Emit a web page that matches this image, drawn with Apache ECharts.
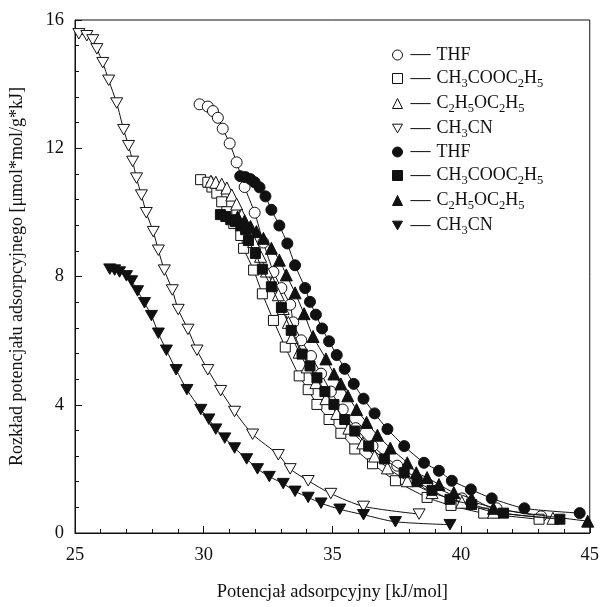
<!DOCTYPE html>
<html><head><meta charset="utf-8">
<script src="https://cdn.jsdelivr.net/npm/echarts@6/dist/echarts.min.js"></script>
<style>html,body{margin:0;padding:0;background:#fff}#c{width:602px;height:607px}</style>
</head><body><div id="c"></div>
<script>
// ---- data ----
var xTicks = [25, 30, 35, 40, 45];
var yTicks = [0, 4, 8, 12, 16];
var legendNames = ['THF', 'CH3COOC2H5', 'C2H5OC2H5', 'CH3CN', 'THF', 'CH3COOC2H5', 'C2H5OC2H5', 'CH3CN'];

var thfOpen = [[29.84,13.37],[30.16,13.30],[30.36,13.16],[30.55,12.95],[30.74,12.61],[31.01,12.15],[31.28,11.56],[31.59,10.79],[31.98,9.99],[32.32,9.06],[32.71,8.14],[33.02,7.64],[33.36,7.12],[33.48,6.57],[33.79,6.01],[34.17,5.52],[34.56,4.97],[34.94,4.41],[35.40,3.85],[35.91,3.27],[36.56,2.71],[37.52,2.10],[38.68,1.54],[40.03,1.08],[41.38,0.77],[43.11,0.52]];
var acetOpen = [[29.88,11.02],[30.16,10.94],[30.32,10.79],[30.51,10.60],[30.70,10.33],[30.90,10.02],[31.17,9.65],[31.44,9.28],[31.55,8.88],[31.94,8.20],[32.28,7.46],[32.71,6.63],[33.17,5.80],[33.71,4.90],[34.06,4.47],[34.40,4.01],[34.87,3.54],[35.33,3.11],[35.87,2.62],[36.56,2.16],[37.45,1.63],[38.68,1.11],[39.61,0.86],[40.88,0.62],[43.03,0.43]];
var etherOpen = [[30.28,10.97],[30.47,10.94],[30.70,10.88],[30.90,10.76],[31.09,10.54],[31.28,10.26],[31.47,9.92],[31.71,9.52],[31.94,9.09],[32.21,8.63],[32.44,8.17],[32.67,7.80],[32.90,7.43],[33.09,7.00],[33.29,6.57],[33.44,6.10],[33.71,5.64],[34.02,5.18],[34.36,4.69],[34.75,4.19],[35.17,3.73],[35.64,3.27],[36.18,2.81],[36.64,2.40],[37.14,2.03],[37.91,1.63],[38.87,1.26],[40.03,0.96],[41.26,0.65],[43.57,0.46]];
var acnOpen = [[25.15,15.57],[25.46,15.51],[25.69,15.38],[25.85,15.10],[26.08,14.67],[26.31,14.12],[26.62,13.41],[26.89,12.58],[27.08,12.08],[27.24,11.59],[27.39,11.07],[27.58,10.54],[27.77,9.99],[28.04,9.40],[28.24,8.82],[28.47,8.20],[28.78,7.58],[29.01,6.97],[29.39,6.35],[29.74,5.70],[30.16,5.09],[30.66,4.44],[31.20,3.79],[31.90,3.08],[32.90,2.44],[33.36,2.00],[34.06,1.63],[34.94,1.23],[36.21,0.83],[38.37,0.59]];
var thfFilled = [[31.42,11.13],[31.62,11.10],[31.81,11.04],[31.98,10.94],[32.17,10.78],[32.40,10.50],[32.63,10.08],[32.94,9.59],[33.25,9.03],[33.55,8.35],[33.94,7.64],[34.13,7.21],[34.36,6.81],[34.60,6.38],[34.87,5.98],[35.17,5.55],[35.48,5.12],[35.83,4.65],[36.21,4.19],[36.64,3.73],[37.14,3.24],[37.79,2.71],[38.56,2.19],[39.14,1.94],[39.64,1.63],[40.38,1.36],[41.19,1.08],[42.46,0.77],[44.61,0.62]];
var acetFilled = [[30.65,9.93],[30.86,9.87],[31.05,9.77],[31.24,9.71],[31.44,9.58],[31.63,9.46],[31.74,9.12],[32.01,8.72],[32.28,8.23],[32.63,7.68],[33.02,7.03],[33.40,6.32],[33.82,5.58],[34.13,5.21],[34.40,4.84],[34.71,4.41],[35.06,4.01],[35.48,3.54],[35.87,3.18],[36.41,2.71],[37.02,2.31],[37.79,1.88],[38.29,1.60],[38.87,1.33],[39.57,1.05],[40.41,0.89],[41.65,0.62],[43.84,0.43]];
var etherFilled = [[31.32,9.86],[31.59,9.74],[31.82,9.56],[32.05,9.40],[32.32,9.19],[32.63,8.88],[32.94,8.51],[33.21,8.05],[33.55,7.49],[33.90,6.84],[34.25,6.13],[34.75,5.43],[35.06,4.96],[35.33,4.65],[35.60,4.28],[35.94,3.85],[36.33,3.45],[36.75,3.05],[37.25,2.65],[37.91,2.19],[38.26,1.88],[38.68,1.73],[39.14,1.51],[39.72,1.26],[40.41,1.08],[41.26,0.77],[44.92,0.37]];
var acnFilled = [[26.35,8.23],[26.54,8.20],[26.73,8.14],[27.00,8.02],[27.20,7.86],[27.43,7.55],[27.70,7.18],[27.97,6.78],[28.24,6.23],[28.55,5.70],[28.93,5.09],[29.35,4.47],[29.89,3.85],[30.20,3.55],[30.47,3.24],[30.82,2.96],[31.20,2.65],[31.67,2.31],[32.09,2.00],[32.55,1.76],[33.09,1.54],[33.55,1.30],[34.06,1.11],[34.56,0.93],[35.29,0.74],[36.21,0.57],[37.45,0.35],[39.57,0.26]];

// ---- chart ----
var FONT = '"Liberation Serif", "DejaVu Serif", serif';
var DOWN = 'path://M0,0L10,0L5,8.7Z';
var seriesDefs = [
  {id:'s1', label:'THF', data:thfOpen, symbol:'circle', fill:'#fff'},
  {id:'s2', label:'CH3COOC2H5', data:acetOpen, symbol:'rect', fill:'#fff'},
  {id:'s3', label:'C2H5OC2H5', data:etherOpen, symbol:'triangle', fill:'#fff'},
  {id:'s4', label:'CH3CN', data:acnOpen, symbol:DOWN, fill:'#fff'},
  {id:'s5', label:'THF', data:thfFilled, symbol:'circle', fill:'#111'},
  {id:'s6', label:'CH3COOC2H5', data:acetFilled, symbol:'rect', fill:'#111'},
  {id:'s7', label:'C2H5OC2H5', data:etherFilled, symbol:'triangle', fill:'#111'},
  {id:'s8', label:'CH3CN', data:acnFilled, symbol:DOWN, fill:'#111'}
];
var richLabel = {
  'THF': '{n|THF}',
  'CH3COOC2H5': '{n|CH}{s|3}{n|COOC}{s|2}{n|H}{s|5}',
  'C2H5OC2H5': '{n|C}{s|2}{n|H}{s|5}{n|OC}{s|2}{n|H}{s|5}',
  'CH3CN': '{n|CH}{s|3}{n|CN}'
};
var labelById = {};
seriesDefs.forEach(function(d){ labelById[d.id] = d.label; });

var series = seriesDefs.map(function(d, i){
  return {
    name: d.id, type: 'line', data: d.data, smooth: 0.25,
    symbol: d.symbol, symbolSize: d.symbol === 'circle' ? 11 : (d.symbol === 'rect' ? 10 : 12),
    symbolKeepAspect: true,
    showAllSymbol: true,
    lineStyle: {color:'#111', width:1},
    itemStyle: {color: d.fill, borderColor:'#111', borderWidth:1},
    z: 2 + i,
    emphasis: {disabled: true}
  };
});

var chart = echarts.init(document.getElementById('c'), null, {renderer:'canvas'});
chart.setOption({
  animation: false,
  backgroundColor: '#fff',
  textStyle: {fontFamily: FONT, color:'#111'},
  grid: {left: 75, right: 8, top: 20, bottom: 68.5, show: true, borderColor:'#111', borderWidth: 1},
  xAxis: {
    type:'value', min: xTicks[0], max: xTicks[xTicks.length-1], interval: xTicks[1]-xTicks[0],
    name: 'Potencjał adsorpcyjny [kJ/mol]', nameLocation:'middle', nameGap: 50,
    nameTextStyle: {fontFamily: FONT, fontSize: 18.5, color:'#111'},
    axisLine: {show:true, lineStyle:{color:'#111', width:1}},
    axisTick: {inside:true, length:7, lineStyle:{color:'#111'}},
    minorTick: {show:true, splitNumber:5, length:4, lineStyle:{color:'#111'}},
    splitLine: {show:false},
    axisLabel: {fontFamily: FONT, fontSize: 18.5, color:'#111', margin: 13}
  },
  yAxis: {
    type:'value', min: yTicks[0], max: yTicks[yTicks.length-1], interval: yTicks[1]-yTicks[0],
    name: 'Rozkład potencjału adsorpcyjnego [μmol*mol/g*kJ]', nameLocation:'middle', nameGap: 49,
    nameTextStyle: {fontFamily: FONT, fontSize: 18, color:'#111'},
    axisLine: {show:true, lineStyle:{color:'#111', width:1}},
    axisTick: {inside:true, length:7, lineStyle:{color:'#111'}},
    minorTick: {show:true, splitNumber:5, length:4, lineStyle:{color:'#111'}},
    splitLine: {show:false},
    axisLabel: {fontFamily: FONT, fontSize: 18.5, color:'#111', margin: 11}
  },
  legend: {
    orient:'vertical', left: 387, top: 40, itemWidth: 10, itemHeight: 10, itemGap: 2,
    selectedMode: false,
    data: seriesDefs.map(function(d){
      return {name: d.id, icon: d.symbol,
        itemStyle: {color: d.fill, borderColor:'#111', borderWidth: 1}};
    }),
    formatter: function(name){ return '{d|—}' + richLabel[labelById[name]]; },
    textStyle: {
      fontFamily: FONT, color:'#111',
      rich: {
        d: {fontFamily: FONT, fontSize: 20, lineHeight: 20, padding:[0,6,0,3], color:'#111'},
        n: {fontFamily: FONT, fontSize: 18, lineHeight: 20, color:'#111'},
        s: {fontFamily: FONT, fontSize: 12.5, lineHeight: 10, padding:[10,0,0,0], color:'#111'}
      }
    }
  },
  series: series
});
</script>
</body></html>
